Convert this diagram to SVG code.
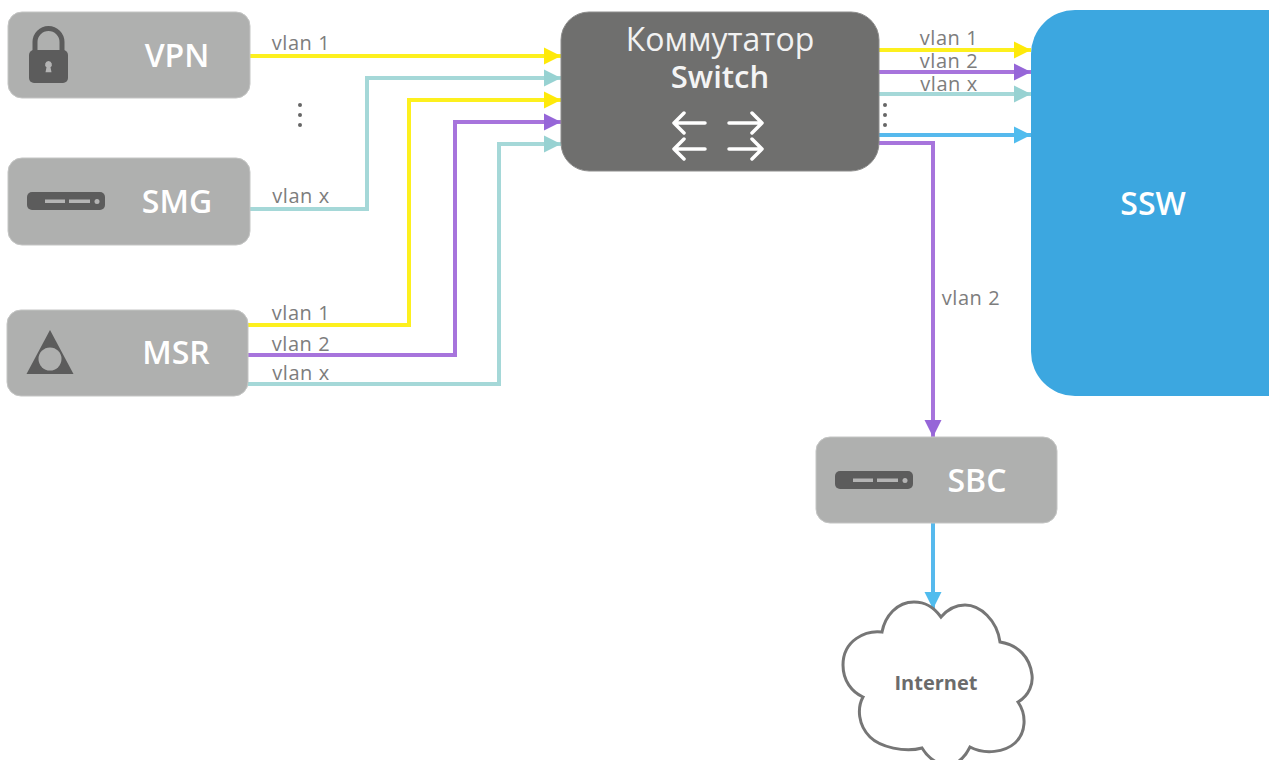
<svg xmlns="http://www.w3.org/2000/svg" width="1269" height="760" viewBox="0 0 1269 760">
<style>
text{font-family:"Open Sans","Liberation Sans",sans-serif}
.box{fill:#afb0af;stroke:#c4c5c4;stroke-width:1}
.name{font-size:32px;font-weight:600;fill:#fff;text-anchor:middle}
.lab{font-size:20px;letter-spacing:.6px;fill:#7d7d7d;text-anchor:middle}
.ico{fill:#5c5c5c}
.w{fill:none;stroke-width:4}
.y{stroke:#fdf01e}.t{stroke:#a5d8d8}.p{stroke:#a774dc}.b{stroke:#56b9ed}
.dot{fill:#666}
.ar{stroke:#fff;stroke-width:3.500;fill:none;stroke-linecap:round;stroke-linejoin:round}
</style>
<defs>
<marker id="ay" markerUnits="userSpaceOnUse" markerWidth="18" markerHeight="19" refX="17" refY="9.500" orient="auto"><path d="M0 1L17 9.500L0 18z" fill="#fee90a"/></marker>
<marker id="at" markerUnits="userSpaceOnUse" markerWidth="18" markerHeight="19" refX="17" refY="9.500" orient="auto"><path d="M0 1L17 9.500L0 18z" fill="#97d2d2"/></marker>
<marker id="ap" markerUnits="userSpaceOnUse" markerWidth="18" markerHeight="19" refX="17" refY="9.500" orient="auto"><path d="M0 1L17 9.500L0 18z" fill="#9666d8"/></marker>
<marker id="ab" markerUnits="userSpaceOnUse" markerWidth="18" markerHeight="19" refX="17" refY="9.500" orient="auto"><path d="M0 1L17 9.500L0 18z" fill="#50bcee"/></marker>
<g id="srv"><rect x="0" y="0" width="78" height="18" rx="5" class="ico"/><path d="M18 7.500h20v3.500H18zM42 7.500h21v3.500H42z" fill="#b4b4b4"/><circle cx="70" cy="9.500" r="2.500" fill="#b4b4b4"/></g>
</defs>
<g id="connectors">
<path class="w y" d="M250 56H561" marker-end="url(#ay)"/>
<path class="w t" d="M250 209H367V78H561" marker-end="url(#at)"/>
<path class="w y" d="M248 325H409V100H561" marker-end="url(#ay)"/>
<path class="w p" d="M248 355H455V122H561" marker-end="url(#ap)"/>
<path class="w t" d="M248 384H499V144H561" marker-end="url(#at)"/>
<path class="w y" d="M879 50H1031" marker-end="url(#ay)"/>
<path class="w p" d="M879 72H1031" marker-end="url(#ap)"/>
<path class="w t" d="M879 94H1031" marker-end="url(#at)"/>
<path class="w b" d="M879 135H1031" marker-end="url(#ab)"/>
<path class="w p" d="M879 143H933V437" marker-end="url(#ap)"/>
<path class="w b" d="M933 523V609" marker-end="url(#ab)"/>
<text class="lab" x="301" y="50">vlan 1</text>
<text class="lab" x="301" y="203">vlan x</text>
<text class="lab" x="301" y="320">vlan 1</text>
<text class="lab" x="301" y="351">vlan 2</text>
<text class="lab" x="301" y="380">vlan x</text>
<text class="lab" x="949" y="45">vlan 1</text>
<text class="lab" x="949" y="68">vlan 2</text>
<text class="lab" x="949" y="91">vlan x</text>
<text class="lab" x="971" y="305">vlan 2</text>
<g class="dot"><circle cx="300" cy="105" r="2"/><circle cx="300" cy="115" r="2"/><circle cx="300" cy="125" r="2"/><circle cx="885" cy="105" r="2"/><circle cx="885" cy="115" r="2"/><circle cx="885" cy="125" r="2"/></g>
</g>
<g id="vpn"><rect class="box" x="8" y="12" width="242" height="86" rx="14"/>
<path d="M35 53V42a13.500 13.500 0 0 1 27 0V53" fill="none" stroke="#5c5c5c" stroke-width="5"/>
<rect class="ico" x="29" y="50" width="39" height="33" rx="5"/>
<path d="M48.500 61a3.500 3.500 0 0 1 2 6.300l1 5h-6l1-5a3.500 3.500 0 0 1 2-6.300z" fill="#b4b4b4"/>
<text class="name" x="177" y="67">VPN</text></g>
<g id="smg"><rect class="box" x="8" y="158" width="242" height="87" rx="14"/>
<use href="#srv" x="27" y="192"/>
<text class="name" x="177" y="213">SMG</text></g>
<g id="msr"><rect class="box" x="7" y="310" width="241" height="86" rx="14"/>
<path class="ico" d="M50 330L73.500 374H26.500z"/><circle cx="50" cy="359" r="11.500" fill="#afb0af"/>
<text class="name" x="176" y="364">MSR</text></g>
<g id="switch"><rect x="561" y="12" width="318" height="159" rx="28" fill="#6f6f6e" stroke="#8d8d8c"/>
<text x="720" y="51" font-size="32" fill="#f2f2f2" text-anchor="middle">Коммутатор</text>
<text x="720" y="88" font-size="31" font-weight="600" fill="#f4f4f4" text-anchor="middle">Switch</text>
<path class="ar" d="M705 123H674M684 113L674 123L684 133M705 149H674M684 139L674 149L684 159M729 123H762M752 113L762 123L752 133M729 149H762M752 139L762 149L752 159"/></g>
<g id="ssw"><path d="M1269 10H1075A44 44 0 0 0 1031 54V352A44 44 0 0 0 1075 396H1269z" fill="#3ca7e0"/>
<text class="name" x="1153" y="215">SSW</text></g>
<g id="sbc"><rect class="box" x="816" y="437" width="241" height="86" rx="14"/>
<use href="#srv" x="835" y="471"/>
<text class="name" x="977" y="492">SBC</text></g>
<g id="internet"><path d="M941 617C933 606 925 602 914 602C897 602 885 616 882 632C866 630 843 640 843 665C843 681 852 692 863 697C857 708 858 725 870 737C880 747 905 753 922 748C928 758 938 765 947 765C957 765 965 757 970 747C985 755 1005 752 1015 743C1026 733 1027 715 1018 702C1030 695 1033 683 1032 675C1030 657 1018 645 1000 642C997 620 980 605 965 605C955 605 947 610 941 617z" fill="#fff" stroke="#767676" stroke-width="3"/>
<text x="936" y="690" font-size="20" font-weight="700" fill="#6b6b6b" text-anchor="middle">Internet</text></g>
</svg>
